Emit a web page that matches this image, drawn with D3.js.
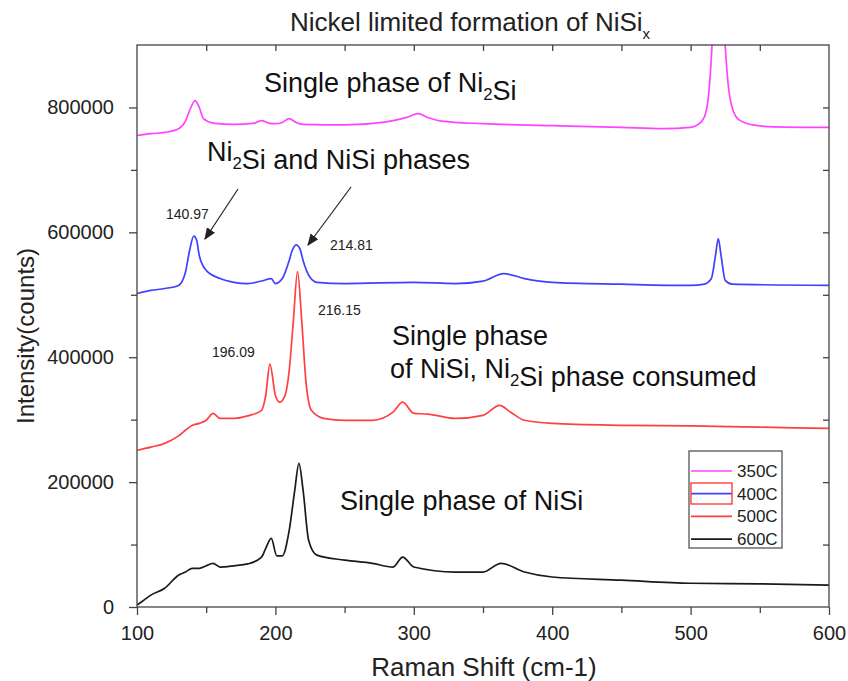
<!DOCTYPE html>
<html>
<head>
<meta charset="utf-8">
<script src="https://cdn.jsdelivr.net/npm/d3@7/dist/d3.min.js"></script>
<style>
  body { margin: 0; background: #fff; }
  svg { font-family: "Liberation Sans", Arial, sans-serif; }
</style>
</head>
<body>
<svg id="chart" width="848" height="681"></svg>
<script>
// Raman spectra (shift in cm-1, intensity in counts) for each anneal temperature
const shift350 = [100,110,120,130,135,138,142,145,148,155,170,185,190,195,200,205,210,215,220,250,280,295,303,310,320,350,400,450,480,500,505,510,513,515,516,518,520,522,524,525,527,530,535,545,560,600];
const counts350 = [755000,758000,760000,766000,778000,795000,811000,800000,782000,775000,773000,775000,779000,775000,774000,776000,782000,776000,773000,772000,777000,784000,790000,784000,778000,774000,771000,768000,766000,768000,772000,785000,820000,880000,920000,1000000,1100000,1050000,950000,900000,840000,800000,780000,772000,769000,768000];

const shift400 = [100,110,120,130,135,138,141,143,145,150,160,170,180,190,197,200,205,210,212,215,218,220,225,230,250,300,330,350,365,380,400,450,500,510,515,518,520,522,525,530,600];
const counts400 = [502000,507000,510000,515000,536000,571000,594000,588000,563000,539000,526000,520000,518000,522000,526000,518000,526000,555000,570000,580000,572000,555000,528000,520000,518000,520000,518000,522000,534000,526000,520000,517000,515000,517000,526000,563000,590000,563000,523000,517000,515000];

const shift500 = [100,110,120,130,135,140,145,150,155,160,170,180,190,193,196,200,203,207,210,213,216,219,222,226,235,250,270,285,292,300,310,330,350,362,370,380,400,450,500,550,600];
const counts500 = [251000,256000,262000,274000,283000,291000,294000,299000,310000,302000,302000,306000,315000,339000,389000,339000,328000,339000,379000,459000,537000,459000,363000,315000,302000,299000,299000,312000,328000,310000,309000,302000,307000,323000,312000,299000,294000,291000,290000,288000,286000];

const shift600 = [100,105,110,120,130,135,140,145,150,155,160,170,180,190,193,197,201,205,210,214,217,220,224,230,250,270,285,292,300,330,350,363,380,400,450,500,550,600];
const counts600 = [3000,11000,19000,30000,51000,56000,62000,62000,66000,70000,64000,66000,69000,80000,94000,110000,82000,82000,123000,187000,230000,187000,107000,83000,75000,70000,64000,80000,64000,56000,56000,70000,56000,48000,43000,38000,37000,35000];

const seriesNames = ["350C", "400C", "500C", "600C"];
const seriesColors = ["#ff44ff", "#4040ff", "#ff4040", "#1a1a1a"];
const seriesShift = [shift350, shift400, shift500, shift600];
const seriesCounts = [counts350, counts400, counts500, counts600];

const xTicks = [100, 200, 300, 400, 500, 600];
const yTicks = [0, 200000, 400000, 600000, 800000];

const svg = d3.select("#chart");
const margin = { left: 137, right: 19, top: 45, bottom: 74 };
const W = 848, H = 681;
const x = d3.scaleLinear().domain([100, 600]).range([margin.left, W - margin.right]);
const y = d3.scaleLinear().domain([0, 900000]).range([H - margin.bottom, margin.top]);

const axisColor = "#444";
const textColor = "#222";

// clip region for the spectra
const defs = svg.append("defs");
defs.append("clipPath").attr("id", "plotClip")
  .append("rect")
  .attr("x", x(100)).attr("y", y(900000))
  .attr("width", x(600) - x(100)).attr("height", y(0) - y(900000));

// spectra
const line = d3.line().curve(d3.curveMonotoneX).x(d => x(d[0])).y(d => y(d[1]));
const gLines = svg.append("g").attr("clip-path", "url(#plotClip)");
seriesNames.forEach((name, i) => {
  const pts = seriesShift[i].map((s, k) => [s, seriesCounts[i][k]]);
  gLines.append("path")
    .datum(pts)
    .attr("fill", "none")
    .attr("stroke", seriesColors[i])
    .attr("stroke-width", 1.7)
    .attr("stroke-linejoin", "round")
    .attr("d", line);
});

// frame
svg.append("rect")
  .attr("x", x(100)).attr("y", y(900000))
  .attr("width", x(600) - x(100)).attr("height", y(0) - y(900000))
  .attr("fill", "none").attr("stroke", axisColor).attr("stroke-width", 1.3);

function styleTicks(g) {
  g.select(".domain").remove();
  g.selectAll(".tick line").attr("stroke", axisColor).attr("stroke-width", 1.3);
}

// bottom axis
const gx = svg.append("g").attr("transform", `translate(0,${y(0)})`)
  .call(d3.axisBottom(x).tickValues(xTicks).tickSize(8).tickPadding(11).tickFormat(d3.format("d")));
styleTicks(gx);
gx.selectAll(".tick text").attr("fill", textColor).attr("font-size", 20);
const gxMinor = svg.append("g").attr("transform", `translate(0,${y(0)})`)
  .call(d3.axisBottom(x).tickValues(d3.range(150, 600, 100)).tickSize(6).tickFormat(""));
styleTicks(gxMinor);

// top mirror ticks
const gxTop = svg.append("g").attr("transform", `translate(0,${y(900000)})`)
  .call(d3.axisBottom(x).tickValues(d3.range(150, 600, 50)).tickSize(6).tickFormat(""));
styleTicks(gxTop);

// left axis
const gy = svg.append("g").attr("transform", `translate(${x(100)},0)`)
  .call(d3.axisLeft(y).tickValues(yTicks).tickSize(8).tickPadding(15).tickFormat(d3.format("d")));
styleTicks(gy);
gy.selectAll(".tick text").attr("fill", textColor).attr("font-size", 20);
const gyMinor = svg.append("g").attr("transform", `translate(${x(100)},0)`)
  .call(d3.axisLeft(y).tickValues([100000, 300000, 500000, 700000]).tickSize(6).tickFormat(""));
styleTicks(gyMinor);

// right mirror ticks
const gyRight = svg.append("g").attr("transform", `translate(${x(600)},0)`)
  .call(d3.axisLeft(y).tickValues(d3.range(100000, 900000, 100000)).tickSize(6).tickFormat(""));
styleTicks(gyRight);

// axis titles
svg.append("text")
  .attr("x", 484).attr("y", 676)
  .attr("text-anchor", "middle").attr("font-size", 26).attr("fill", textColor)
  .text("Raman Shift (cm-1)");
svg.append("text")
  .attr("transform", `translate(34,336) rotate(-90)`)
  .attr("text-anchor", "middle").attr("font-size", 24).attr("fill", textColor)
  .text("Intensity(counts)");

// chart title
const title = svg.append("text")
  .attr("x", 290).attr("y", 31)
  .attr("font-size", 26).attr("fill", textColor);
title.append("tspan").text("Nickel limited formation of NiSi");
title.append("tspan").attr("font-size", 15).attr("dy", 8).text("x");

// helper for phase labels with subscripts
function label(px, py, parts, size) {
  const t = svg.append("text").attr("x", px).attr("y", py)
    .attr("font-size", size).attr("fill", "#111");
  parts.forEach(p => {
    if (p.sub) {
      t.append("tspan").attr("font-size", size * 0.62).attr("dy", size * 0.3).text(p.sub);
      t.append("tspan").attr("dy", -size * 0.3).text("");
    } else {
      t.append("tspan").text(p.t);
    }
  });
  return t;
}

label(264, 92, [{ t: "Single phase of Ni" }, { sub: "2" }, { t: "Si" }], 27);
label(207, 161, [{ t: "Ni" }, { sub: "2" }, { t: "Si and NiSi phases" }], 27);
label(392, 345, [{ t: "Single phase" }], 27);
label(390, 378, [{ t: "of NiSi, Ni" }, { sub: "2" }, { t: "Si phase consumed" }], 27);
label(340, 510, [{ t: "Single phase of NiSi" }], 27);

// peak position labels
const peakLabels = [
  { t: "140.97", px: 166, py: 219 },
  { t: "214.81", px: 330, py: 250 },
  { t: "196.09", px: 212, py: 357 },
  { t: "216.15", px: 318, py: 315 }
];
peakLabels.forEach(d => {
  svg.append("text").attr("x", d.px).attr("y", d.py)
    .attr("font-size", 14).attr("fill", "#222").text(d.t);
});

// arrows pointing at the two 400C peaks
defs.append("marker").attr("id", "arrowHead")
  .attr("viewBox", "0 0 10 10").attr("refX", 9).attr("refY", 5)
  .attr("markerWidth", 12).attr("markerHeight", 12).attr("markerUnits", "userSpaceOnUse")
  .attr("orient", "auto")
  .append("path").attr("d", "M0,1 L10,5 L0,9 z").attr("fill", "#222");
[[238, 189, 205, 239], [351, 187, 308, 245]].forEach(a => {
  svg.append("line")
    .attr("x1", a[0]).attr("y1", a[1]).attr("x2", a[2]).attr("y2", a[3])
    .attr("stroke", "#222").attr("stroke-width", 1.2)
    .attr("marker-end", "url(#arrowHead)");
});

// legend
const lg = svg.append("g").attr("transform", "translate(689,451)");
lg.append("rect").attr("width", 93).attr("height", 97)
  .attr("fill", "#fff").attr("stroke", "#555").attr("stroke-width", 1.3);
seriesNames.forEach((name, i) => {
  const ly = 20 + i * 22.7;
  lg.append("line").attr("x1", 2).attr("x2", 43).attr("y1", ly).attr("y2", ly)
    .attr("stroke", seriesColors[i]).attr("stroke-width", 1.7);
  lg.append("text").attr("x", 48).attr("y", ly + 6)
    .attr("font-size", 17).attr("fill", "#222").text(name);
});
// selection outline around the 400C sample
lg.append("rect").attr("x", 2).attr("y", 32).attr("width", 41).attr("height", 21)
  .attr("fill", "none").attr("stroke", "#ff3030").attr("stroke-width", 1.3);
</script>
</body>
</html>
